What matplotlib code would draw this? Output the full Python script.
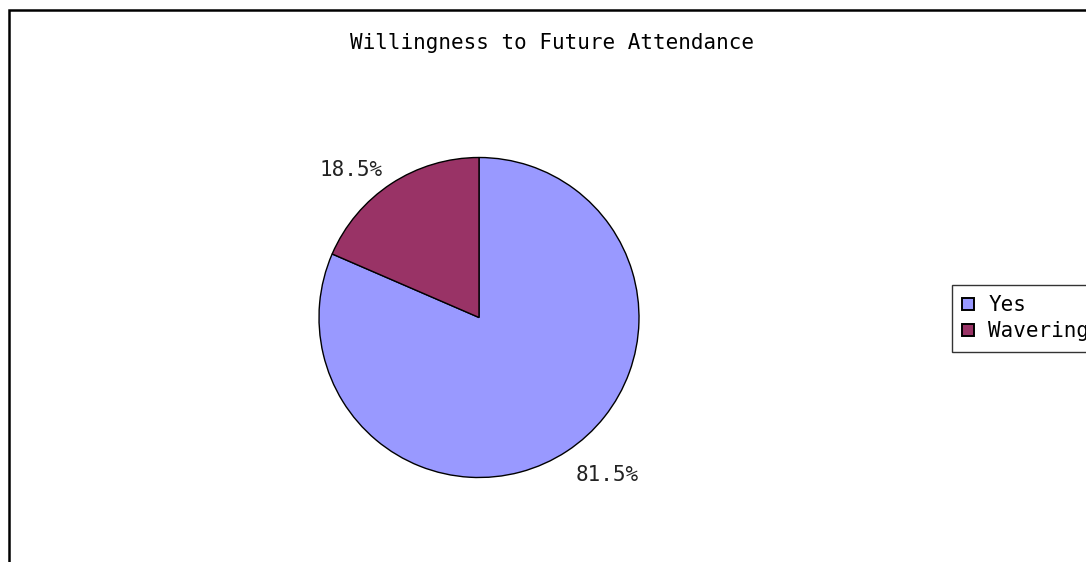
import numpy as np
import matplotlib.pyplot as plt
from matplotlib.patches import Rectangle

labels = ["Yes", "Wavering"]
shares = [81.5, 18.5]
colors = ["#9999FF", "#993366"]
title = "Willingness to Future Attendance"

W, H = 1086, 562
plt.rcParams["font.family"] = ["DejaVu Sans Mono"]
fs = 15

fig = plt.figure(figsize=(W / 100, H / 100), dpi=100)

# chart area border (runs off the right and bottom edges)
fig.patches.append(Rectangle((9 / W, -0.1), 1.2, 1.1 - 10 / H,
                             transform=fig.transFigure, fill=False,
                             edgecolor="black", linewidth=1.8))

# pie: centre at (479, 317.5) px, radius ~160 px
box = 200
ax = fig.add_axes([(479 - box) / W, (H - 317.5 - box) / H, 2 * box / W, 2 * box / H])
lim = box / 159.5
ax.set_xlim(-lim, lim)
ax.set_ylim(-lim, lim)
ax.axis("off")

wedges, _ = ax.pie(shares, colors=colors, startangle=90, counterclock=False,
                   wedgeprops=dict(edgecolor="black", linewidth=1.0))

for w, v in zip(wedges, shares):
    ang = np.deg2rad((w.theta1 + w.theta2) / 2)
    x, y = 1.1 * np.cos(ang), 1.1 * np.sin(ang)
    ax.text(x, y, f"{v:.1f}%", fontsize=fs, color="#222222",
            ha="left" if x > 0 else "right",
            va="center" if y > 0 else "top")

fig.text(552 / W, 1 - 43 / H, title, fontsize=fs, ha="center", va="center")

# legend box hangs over the right edge of the figure
leg = fig.legend(wedges, labels, loc="upper left",
                 bbox_to_anchor=(952 / W, 1 - 285 / H), fontsize=fs,
                 frameon=True, fancybox=False, borderaxespad=0,
                 handlelength=0.55, handleheight=0.55, handletextpad=0.7,
                 labelspacing=0.28, borderpad=0.5)
leg.get_frame().set_edgecolor("black")
leg.get_frame().set_linewidth(1.0)
for h in leg.legend_handles:
    h.set_linewidth(1.4)

fig.savefig("out.png", dpi=100)
